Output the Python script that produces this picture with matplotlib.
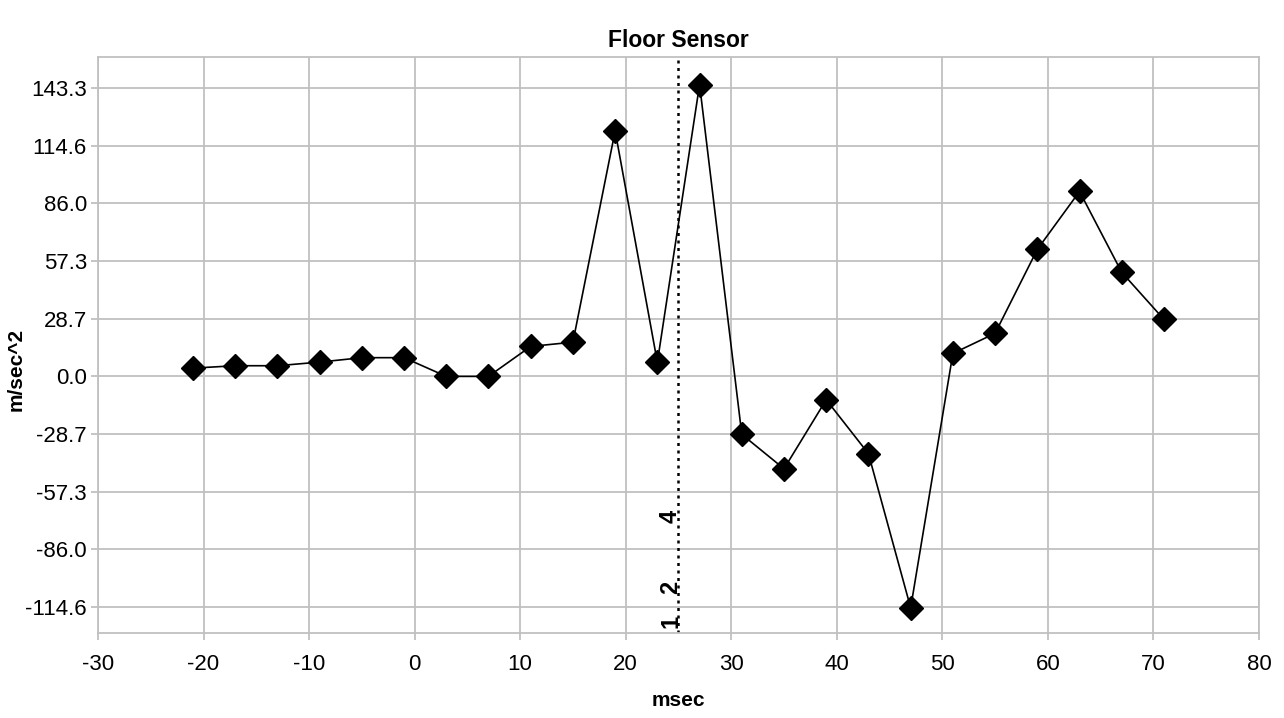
import numpy as np
import matplotlib
matplotlib.use('Agg')
import matplotlib.pyplot as plt

plt.rcParams['font.family'] = ['Liberation Sans', 'DejaVu Sans']
plt.rcParams['axes.unicode_minus'] = False

# readings off the floor sensor
msec = [-21, -17, -13, -9, -5, -1, 3, 7, 11, 15, 19, 23,
        27, 31, 35, 39, 43, 47, 51, 55, 59, 63, 67, 71]
accel = [4.1, 5.3, 5.3, 7.1, 9.3, 9.3, 0.0, 0.0, 14.9, 17.0, 122.0, 7.0,
         145.0, -28.8, -45.9, -11.6, -38.4, -115.0, 11.4, 21.4, 63.1, 91.9, 51.7, 28.3]

marker_x = 25
marker_labels = [('1', -122.0), ('2', -104.6), ('4', -69.4)]

yticks = np.arange(-4, 6) * 28.66
xticks = np.arange(-30, 81, 10)

fig = plt.figure(figsize=(12.84, 7.18), dpi=100)
ax = fig.add_axes([0.0763, 0.1184, 0.9042, 0.8022])

grid_col = '#c0c0c0'
ax.plot(msec, accel, color='black', lw=1.2, marker='D', ms=12, zorder=3)
ax.axvline(marker_x, color='black', ls=(0, (1.2, 1.8)), lw=1.8, zorder=2)
for lbl, yy in marker_labels:
    ax.text(marker_x - 0.75, yy, lbl, rotation=90, ha='center', va='center',
            fontsize=17, fontweight='bold')

ax.set_xlim(-30, 80)
ax.set_ylim(-127.5, 158.7)
ax.set_xticks(xticks)
ax.set_yticks(yticks)
ax.set_yticklabels(['%.1f' % v for v in yticks])
ax.grid(True, color=grid_col, lw=1.3)
ax.set_axisbelow(True)
for s in ax.spines.values():
    s.set_color(grid_col)
    s.set_linewidth(1.3)
ax.tick_params(axis='both', color=grid_col, width=1.3, length=5, labelsize=16, pad=3)
ax.tick_params(axis='x', pad=10)

ax.set_title('Floor Sensor', fontsize=16.5, fontweight='bold', pad=7)
ax.set_xlabel('msec', fontsize=15, fontweight='bold', labelpad=12)
ax.set_ylabel('m/sec^2', fontsize=15, fontweight='bold')
ax.yaxis.set_label_coords(-0.062, 0.457)

plt.savefig('out.png', dpi=100)
